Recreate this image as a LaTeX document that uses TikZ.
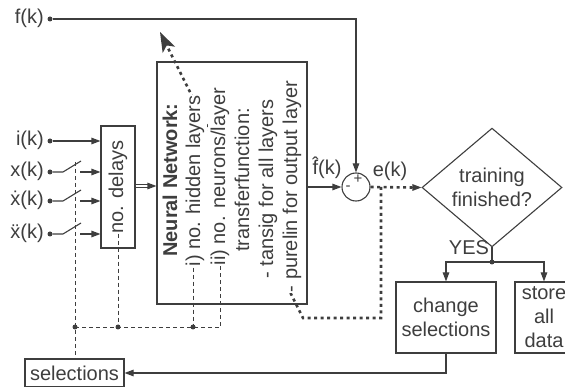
\documentclass[tikz,border=0pt]{standalone}
\usepackage{fontspec}
\setmainfont{Liberation Sans}
\usetikzlibrary{arrows.meta,shapes.geometric,calc}
\definecolor{ink}{RGB}{62,62,62}
\begin{document}
\begin{tikzpicture}[x=1pt,y=-1pt,
  font=\fontsize{20}{24}\selectfont,
  every node/.style={text=ink},
  line/.style={draw=ink, line width=1.1pt},
  box/.style={draw=ink, line width=1.1pt, rectangle, inner sep=0pt, align=center},
  arr/.style={line, -{Triangle[length=9pt,width=6.5pt]}},
  ctrl/.style={draw=ink, line width=0.9pt, dash pattern=on 4pt off 3pt},
  err/.style={draw=ink, line width=2.6pt, dash pattern=on 3pt off 3.5pt},
  pt/.style={circle, fill=ink, inner sep=0pt, minimum size=5pt},
  sig/.style={anchor=east, inner sep=0pt, text height=14pt, text depth=4pt},
  nnline/.style={rotate=90, fill=white, inner xsep=1pt, inner ysep=2pt,
                 text height=15pt, text depth=5pt}
]
\useasboundingbox (0,0) rectangle (565,387);
\clip (0,0) rectangle (565,387);

% input signals
\node[pt] (fd) at (50,19) {};
\node[sig] (fl) at (44,19) {f(k)};
\node[pt] (id) at (50,141) {};
\node[sig] (il) at (44,141) {i(k)};
\node[pt] (xd) at (50,172) {};
\node[sig] (xl) at (44,172) {x(k)};
\node[pt] (vd) at (50,201) {};
\node[sig] (vl) at (44,201) {\.x(k)};
\node[pt] (ad) at (50,234) {};
\node[sig] (al) at (44,234) {\"x(k)};

% delay block
\node[box, minimum width=34pt, minimum height=122pt] (dl) at (118,187) {};
\node[rotate=90, inner sep=0pt] (dt) at (dl.center) {no. delays};

% inputs into the delay block
\draw[arr] (id) -- (id -| dl.west);
\foreach \d in {xd,vd,ad}{
  \draw[line] (\d) -- ++(13,0) -- ++(18,-11);
  \coordinate (\d s) at ($(\d)+(30,0)$);
  \draw[arr] (\d s) -- (\d s -| dl.west);
}

% neural network block
\node[box, minimum width=150pt, minimum height=242pt] (nn) at (232,183) {};

% error feedback path through the network
\coordinate (ej) at (381,187);
\coordinate (eb) at (381,318);
\coordinate (ec) at (303,318);
\coordinate (et) at (160,32);
\draw[err, -{Stealth[length=20pt,width=14pt,inset=5pt,line width=0pt]}]
  (ej) -- (eb) -- (ec) -- (et);

% network description
\node[nnline] (l1) at (172,180) {\textbf{Neural Network:}};
\node[nnline] (l2) at (195,181) {i) no. hidden layers};
\node[nnline] (l3) at (220,176.5) {ii) no. neurons/layer};
\node[nnline] (l4) at (244,180) {transferfunction:};
\node[nnline] (l5) at (268,189) {- tansig for all layers};
\node[nnline] (l6) at (292,186.5) {- purelin for output layer};

% delays -> network
\coordinate (da) at (dl.east |- 0,186);
\coordinate (na) at (nn.west |- 0,186);
\draw[draw=ink, line width=0.8pt, double=white, double distance=1.6pt]
  (da) -- ($(na)+(-7,0)$);
\draw[arr] ($(na)+(-8,0)$) -- (na);

% selection settings
\node[box, minimum width=99pt, minimum height=28pt] (sel) at (74.5,373) {selections};
\coordinate (j1) at (75,327);
\coordinate (j2) at (dt.west |- j1);
\coordinate (j3) at (193,327);
\coordinate (j4) at (220,327);
\draw[ctrl] (75,162) -- (j1) -- (j1 |- sel.north);
\draw[ctrl] (dt.west) -- (j2);
\draw[ctrl] (l2.west -| j3) -- (j3);
\draw[ctrl] (l3.west -| j4) -- (j4);
\draw[ctrl] (j1) -- (j4);
\node[pt] at (j1) {};
\node[pt] at (j2) {};
\node[pt] at (j3) {};

% comparison
\node[circle, draw=ink, line width=1.1pt, minimum size=28pt, inner sep=0pt] (sum) at (356,187) {};
\node[inner sep=0pt, font=\fontsize{15}{15}\selectfont] (sp) at (358,179) {+};
\node[inner sep=0pt, font=\fontsize{15}{15}\selectfont] (sm) at (348,188) {-};
\draw[arr] (fd) -- (sum.north |- fd) -- (sum.north);
\draw[arr] (nn.east |- sum) -- (sum.west);
\node[inner sep=0pt] (fh) at (327,168) {\^f(k)};
\node[inner sep=0pt] (ek) at (390,171) {e(k)};

% decision
\node[diamond, draw=ink, line width=1.1pt, minimum width=140pt, minimum height=99pt,
      inner sep=0pt, align=center] (dec) at (492,187.5) {training\\finished?};
\draw[err] (sum.east) -- ($(dec.west)+(-9,0)$);
\draw[arr] ($(dec.west)+(-10,0)$) -- (dec.west);

\node[box, minimum width=100pt, minimum height=71pt] (chg) at (446,317.5) {change\\selections};
\node[box, minimum width=58pt, minimum height=71pt] (st) at (544,317.5) {store\\all\\data};

\coordinate (yj) at (dec.south |- 0,262);
\draw[line] (dec.south) -- (yj);
\draw[arr] (yj) -- (chg.north |- yj) -- (chg.north);
\draw[arr] (yj) -- (st.north |- yj) -- (st.north);
\node[pt] at (yj) {};
\node[inner sep=0pt] (yes) at (469,248) {YES};

\draw[arr] (chg.south) -- (chg.south |- sel) -- (sel.east);
\end{tikzpicture}
\end{document}
